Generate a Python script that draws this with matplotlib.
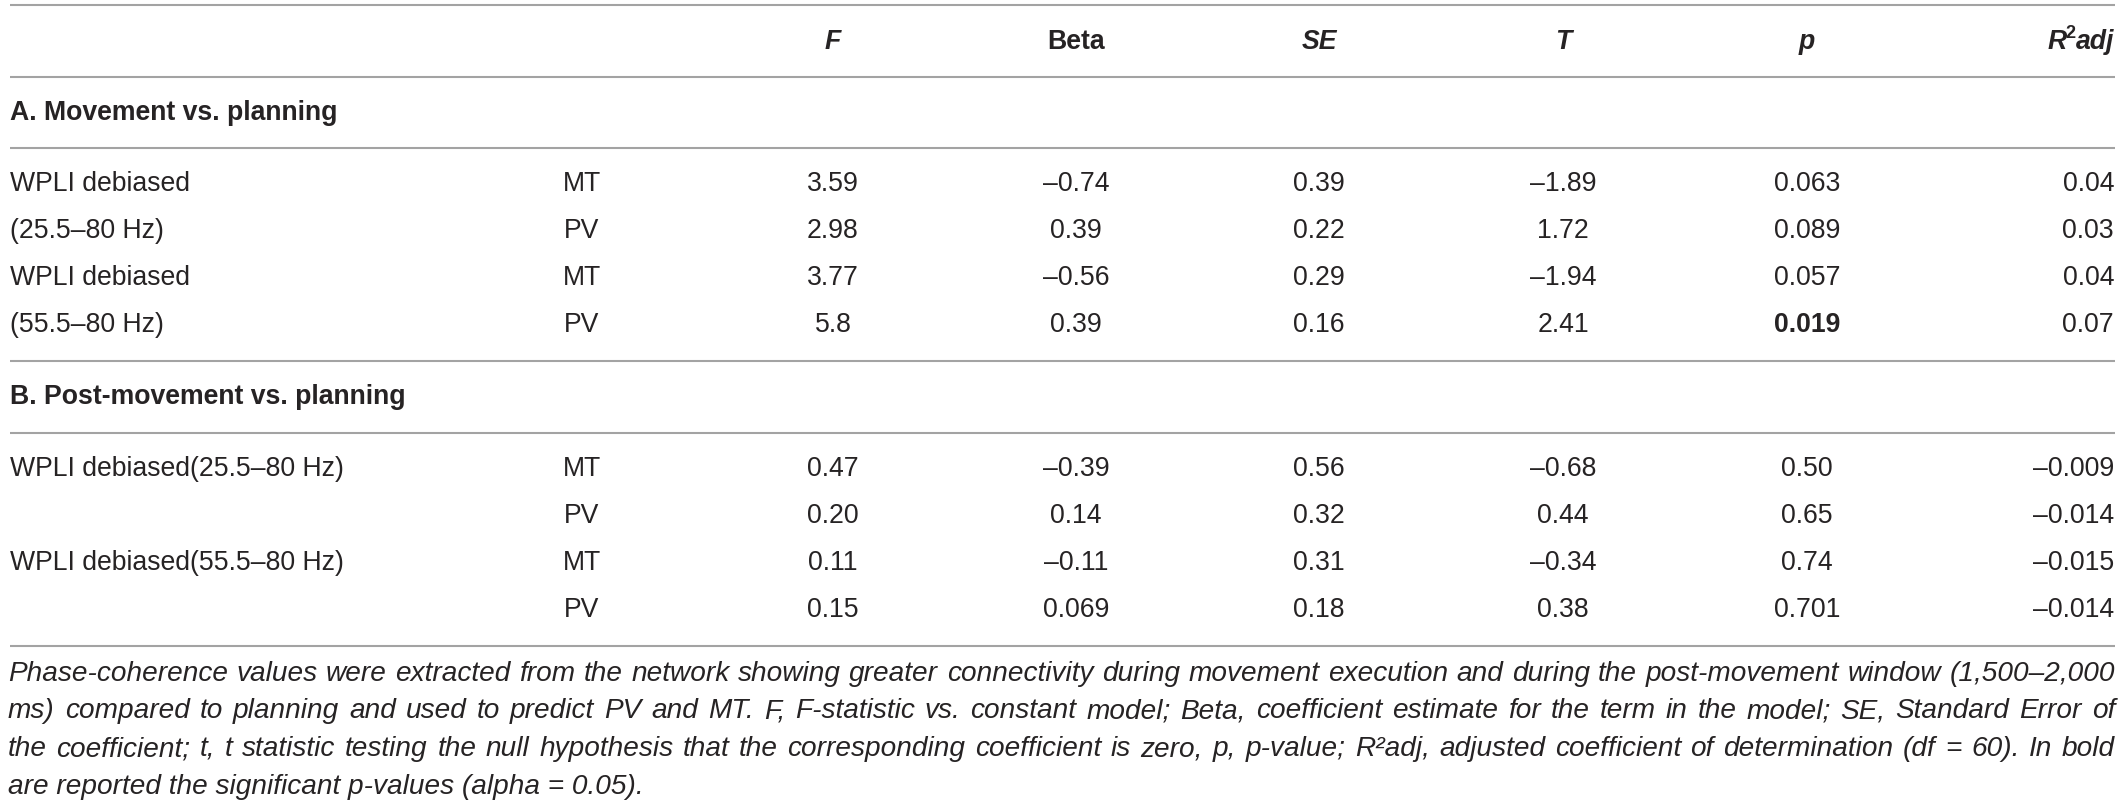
import matplotlib
matplotlib.use("Agg")
import matplotlib.pyplot as plt

# ---------------- data ----------------
columns = ["F", "Beta", "SE", "T", "p", "R²adj"]
column_italic = [True, False, True, True, True, True]

section_titles = ["A. Movement vs. planning", "B. Post-movement vs. planning"]

labels_A = ["WPLI debiased", "(25.5–80 Hz)", "WPLI debiased", "(55.5–80 Hz)"]
labels_B = ["WPLI debiased(25.5–80 Hz)", "", "WPLI debiased(55.5–80 Hz)", ""]
outcomes = ["MT", "PV", "MT", "PV"]

F_A = ["3.59", "2.98", "3.77", "5.8"]
Beta_A = ["–0.74", "0.39", "–0.56", "0.39"]
SE_A = ["0.39", "0.22", "0.29", "0.16"]
T_A = ["–1.89", "1.72", "–1.94", "2.41"]
p_A = ["0.063", "0.089", "0.057", "0.019"]
R2_A = ["0.04", "0.03", "0.04", "0.07"]
sig_A = [False, False, False, True]

F_B = ["0.47", "0.20", "0.11", "0.15"]
Beta_B = ["–0.39", "0.14", "–0.11", "0.069"]
SE_B = ["0.56", "0.32", "0.31", "0.18"]
T_B = ["–0.68", "0.44", "–0.34", "0.38"]
p_B = ["0.50", "0.65", "0.74", "0.701"]
R2_B = ["–0.009", "–0.014", "–0.015", "–0.014"]
sig_B = [False, False, False, False]

caption_lines = [
    "Phase-coherence values were extracted from the network showing greater connectivity during movement execution and during the post-movement window (1,500–2,000",
    "ms) compared to planning and used to predict PV and MT. F, F-statistic vs. constant model; Beta, coefficient estimate for the term in the model; SE, Standard Error of",
    "the coefficient; t, t statistic testing the null hypothesis that the corresponding coefficient is zero, p, p-value; R²adj, adjusted coefficient of determination (df = 60). In bold",
    "are reported the significant p-values (alpha = 0.05).",
]

# ---------------- layout ----------------
W, H = 2125, 806
fig = plt.figure(figsize=(W / 100, H / 100), dpi=100)
ax = fig.add_axes([0, 0, 1, 1])
ax.set_xlim(0, W)
ax.set_ylim(H, 0)
ax.axis("off")

FAM = ["Liberation Sans", "DejaVu Sans"]
TXT = "#262324"
LINE = "#a3a3a3"
FS = 19.2
X0, X1 = 10, 2115

col_x = [833, 1076, 1319, 1563, 1807, 2114]
out_x = 582

renderer = fig.canvas.get_renderer()

def width_of(s, fs, **kw):
    t = ax.text(0, 0, s, fontsize=fs, family=FAM, **kw)
    w = t.get_window_extent(renderer).width
    t.remove()
    return w

def hline(y):
    ax.plot([X0, X1], [y, y], color=LINE, lw=1.5, solid_capstyle="butt")

for y in [5, 77, 148, 361, 433, 646]:
    hline(y)

# header
HY = 42
for cx, name, it in zip(col_x, columns, column_italic):
    style = "italic" if it else "normal"
    if name == "R²adj":
        # R, raised 2, adj -- right aligned at column edge
        w_adj = width_of("adj", FS, fontweight="bold", fontstyle="italic")
        ax.text(cx, HY, "adj", ha="right", va="center", fontsize=FS,
                family=FAM, fontweight="bold", fontstyle="italic", color=TXT)
        sfs = FS * 0.68
        w_2 = width_of("2", sfs, fontweight="bold")
        ax.text(cx - w_adj, HY - 8, "2", ha="right", va="center", fontsize=sfs,
                family=FAM, fontweight="bold", color=TXT)
        ax.text(cx - w_adj - w_2 + 1, HY, "R", ha="right", va="center",
                fontsize=FS, family=FAM, fontweight="bold",
                fontstyle="italic", color=TXT)
    else:
        ax.text(cx, HY, name, ha="center", va="center", fontsize=FS,
                family=FAM, fontweight="bold", fontstyle=style, color=TXT)

# sections
sections = [
    (section_titles[0], 112.5, [184, 231, 278, 325], labels_A,
     [F_A, Beta_A, SE_A, T_A, p_A, R2_A], sig_A),
    (section_titles[1], 397, [469, 516, 563, 610], labels_B,
     [F_B, Beta_B, SE_B, T_B, p_B, R2_B], sig_B),
]

for title, ty, rows_y, labs, cols, sig in sections:
    ax.text(X0, ty, title, ha="left", va="center", fontsize=FS, family=FAM,
            fontweight="bold", color=TXT)
    for i, ry in enumerate(rows_y):
        ax.text(X0, ry, labs[i], ha="left", va="center", fontsize=FS,
                family=FAM, color=TXT)
        ax.text(out_x, ry, outcomes[i], ha="center", va="center", fontsize=FS,
                family=FAM, color=TXT)
        for j, (cx, vals) in enumerate(zip(col_x, cols)):
            ha = "right" if j == len(col_x) - 1 else "center"
            bold = (j == 4 and sig[i])
            ax.text(cx, ry, vals[i], ha=ha, va="center", fontsize=FS,
                    family=FAM, color=TXT,
                    fontweight="bold" if bold else "normal")

# caption (justified)
ref = width_of(caption_lines[3], 10, fontstyle="italic")
CFS = 10 * 636 / ref

cap_y = [674, 711.5, 749, 786.5]
for k, (line, cy) in enumerate(zip(caption_lines, cap_y)):
    if k == len(caption_lines) - 1:
        ax.text(X0 - 2, cy, line, ha="left", va="center", fontsize=CFS,
                family=FAM, fontstyle="italic", color=TXT)
        continue
    words = line.split(" ")
    widths = [width_of(w, CFS, fontstyle="italic") for w in words]
    gap = (X1 - (X0 - 2) - sum(widths)) / (len(words) - 1)
    x = X0 - 2
    for w, wd in zip(words, widths):
        ax.text(x, cy, w, ha="left", va="center", fontsize=CFS, family=FAM,
                fontstyle="italic", color=TXT)
        x += wd + gap

fig.savefig("out.png", dpi=100, facecolor="white")
